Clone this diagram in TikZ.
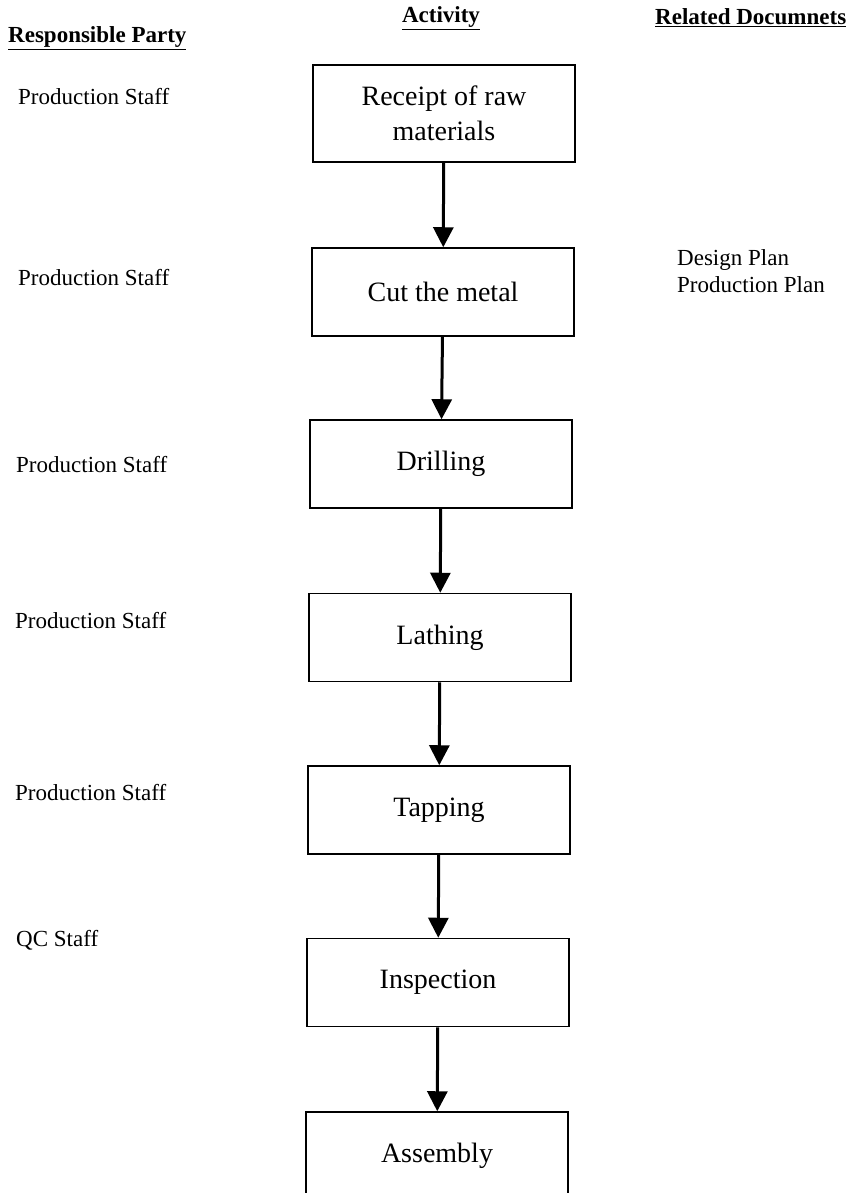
\documentclass[tikz,border=0pt]{standalone}
\usepackage{fontspec}
\setmainfont{Liberation Serif}
\usetikzlibrary{arrows.meta}

\tikzset{
    activity/.style = {draw, line width=1.5pt, minimum width=262pt, minimum height=88pt,
                       align=center, inner sep=0pt, font=\fontsize{28}{35}\selectfont},
    party/.style    = {anchor=west, inner sep=0pt, font=\fontsize{23}{27}\selectfont},
    heading/.style  = {inner sep=0pt, font=\fontsize{23}{27}\selectfont\bfseries},
    flow/.style     = {line width=3pt, -{Triangle[width=20pt,length=20pt]}}
}

\begin{document}
\begin{tikzpicture}[x=1pt, y=-1pt]
    \clip (0,0) rectangle (853,1193);

    % headings
    \node[heading, anchor=west] (hparty) at (8,38) {\underline{Responsible Party}};
    \node[heading] (hactivity) at (441,18) {\underline{Activity}};
    \node[heading, anchor=west] (hdocs) at (655,18) {\underline{Related Documnets}};

    % activities
    \node[activity, minimum height=97pt] (receipt) at (444,113.5) {Receipt of raw\\materials};
    \node[activity] (cut) at (443,292) {Cut the metal};
    \node[activity] (drill) at (441,464) {Drilling};
    \node[activity] (lathe) at (440,637.5) {Lathing};
    \node[activity] (tap) at (439,810) {Tapping};
    \node[activity] (inspect) at (438,982.5) {Inspection};
    \node[activity] (assembly) at (437,1156) {Assembly};

    % responsible party
    \node[party] (p1) at (18,97) {Production Staff};
    \node[party] (p2) at (18,278) {Production Staff};
    \node[party] (p3) at (16,465) {Production Staff};
    \node[party] (p4) at (15,621) {Production Staff};
    \node[party] (p5) at (15,793) {Production Staff};
    \node[party] (p6) at (16,940) {QC Staff};

    % related documents
    \node[party, align=left] (docs) at (677,271) {Design Plan\\Production Plan};

    % flow
    \draw[flow] (receipt) -- (cut);
    \draw[flow] (cut) -- (drill);
    \draw[flow] (drill) -- (lathe);
    \draw[flow] (lathe) -- (tap);
    \draw[flow] (tap) -- (inspect);
    \draw[flow] (inspect) -- (assembly);
\end{tikzpicture}
\end{document}
